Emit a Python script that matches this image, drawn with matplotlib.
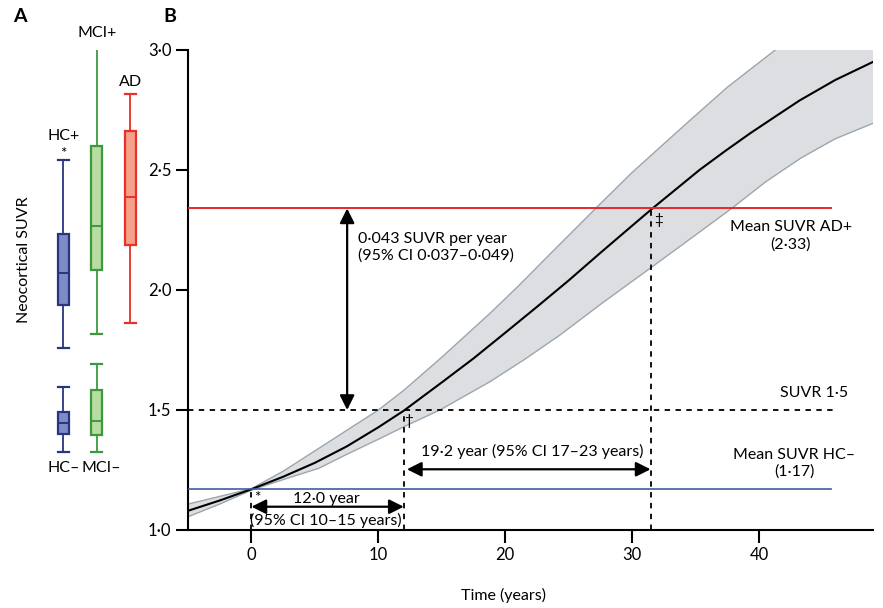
import matplotlib
matplotlib.use('Agg')
import matplotlib.pyplot as plt

plt.rcParams['font.family'] = ['Lato', 'DejaVu Sans']

# panel A: box statistics (neocortical SUVR)
groups = ['HC+', 'HC–', 'MCI+', 'MCI–', 'AD']
group_pos = [1, 1, 2, 2, 3]
whis_lo = [1.53, 1.03, 1.60, 1.03, 1.65]
q1 = [1.74, 1.115, 1.91, 1.11, 2.03]
med = [1.895, 1.17, 2.12, 1.178, 2.26]
q3 = [2.08, 1.222, 2.51, 1.328, 2.58]
whis_hi = [2.44, 1.344, 3.00, 1.452, 2.76]
edge_cols = ['#2a3580', '#2a3580', '#3c9a3c', '#3c9a3c', '#e8302a']
fill_cols = ['#7d8cc6', '#7d8cc6', '#b8dca2', '#b8dca2', '#f5a08b']

# panel B: modelled SUVR trajectory with 95% band
t_mean = [-5, -2.5, 0, 2.5, 5, 7.5, 10, 12, 15, 17.5, 20, 22.5, 25, 27.5, 30, 31.6,
          33.5, 35.3, 37.3, 39.3, 41.2, 43.2, 46, 49]
suvr_mean = [1.080, 1.123, 1.170, 1.222, 1.280, 1.348, 1.428, 1.497, 1.615, 1.715,
             1.822, 1.930, 2.040, 2.155, 2.268, 2.340, 2.422, 2.500, 2.578, 2.653,
             2.720, 2.790, 2.875, 2.951]
t_upper = [-5, -2.5, 0, 2.5, 5.3, 7.5, 10, 12, 15, 18.8, 21, 24, 27.5, 30, 34.3,
           37.5, 41.1, 44, 49]
suvr_upper = [1.108, 1.140, 1.172, 1.245, 1.340, 1.415, 1.500, 1.582, 1.720, 1.903,
              2.015, 2.175, 2.360, 2.490, 2.695, 2.845, 2.993, 3.110, 3.300]
t_lower = [-5, -2.5, 0, 2.5, 5.3, 7.5, 10, 12, 14.85, 18.8, 21.5, 24.3, 27.5, 31.66,
           34.5, 37.84, 40.5, 43.3, 46, 49]
suvr_lower = [1.055, 1.108, 1.166, 1.210, 1.257, 1.315, 1.378, 1.430, 1.500, 1.618,
              1.710, 1.812, 1.940, 2.100, 2.210, 2.340, 2.450, 2.550, 2.630, 2.695]

mean_ad = 2.34
mean_hc = 1.17
threshold = 1.5
t_hc, t_thr, t_ad = 0.0, 12.0, 31.5

fig = plt.figure(figsize=(8.83, 6.08), dpi=100)
W, H = 883.0, 608.0

# ---------------- panel A ----------------
axA = fig.add_axes([30 / W, 1 - 530 / H, 133.4 / W, 480 / H])
for i in range(len(groups)):
    st = dict(whislo=whis_lo[i], q1=q1[i], med=med[i], q3=q3[i],
              whishi=whis_hi[i], fliers=[])
    axA.bxp([st], positions=[group_pos[i]], widths=0.33, capwidths=0.33,
            patch_artist=True, showfliers=False,
            boxprops=dict(facecolor=fill_cols[i], edgecolor=edge_cols[i], lw=1.6),
            medianprops=dict(color=edge_cols[i], lw=1.4),
            whiskerprops=dict(color=edge_cols[i], lw=1.3),
            capprops=dict(color=edge_cols[i], lw=1.6))
axA.set_xlim(0, 4)
axA.set_ylim(0.651, 2.972)
axA.axis('off')
axA.text(1, 2.555, 'HC+', ha='center', va='center', fontsize=11.5)
axA.text(1, 2.47, '*', ha='center', va='center', fontsize=11)
axA.text(2, 3.054, 'MCI+', ha='center', va='center', fontsize=11.5)
axA.text(3, 2.817, 'AD', ha='center', va='center', fontsize=11.5)
axA.text(1, 0.951, 'HC–', ha='center', va='center', fontsize=11.5)
axA.text(2.15, 0.951, 'MCI–', ha='center', va='center', fontsize=11.5)
fig.text(24 / W, 1 - 260 / H, 'Neocortical SUVR', rotation=90, ha='center',
         va='center', fontsize=11.5)
fig.text(20 / W, 1 - 17 / H, 'A', ha='center', va='center', fontsize=14,
         fontweight='bold')
fig.text(170 / W, 1 - 17 / H, 'B', ha='center', va='center', fontsize=14,
         fontweight='bold')

# ---------------- panel B ----------------
ax = fig.add_axes([188 / W, 1 - 530 / H, (873.3 - 188) / W, 480 / H])
ax.fill_between(t_upper, suvr_upper, 0, color='#dcdee2', lw=0, zorder=1)
ax.fill_between(t_lower, suvr_lower, 0, color='white', lw=0, zorder=1.1)
ax.plot(t_upper, suvr_upper, color='#9ba7ad', lw=1.0, zorder=2)
ax.plot(t_lower, suvr_lower, color='#9ba7ad', lw=1.0, zorder=2)
ax.plot(t_mean, suvr_mean, color='black', lw=1.5, zorder=3)

ax.plot([-5, 45.7], [mean_ad, mean_ad], color='#e8272b', lw=1.4, zorder=4)
ax.plot([-5, 45.7], [mean_hc, mean_hc], color='#3f5ea6', lw=1.2, zorder=4)
ax.plot([-5, 45.8], [threshold, threshold], color='black', lw=1.3,
        ls=(0, (3, 3)), zorder=4)
ax.plot([t_hc, t_hc], [1.0, mean_hc], color='black', lw=1.3, ls=(0, (3, 3)), zorder=4)
ax.plot([t_thr, t_thr], [1.0, threshold], color='black', lw=1.3, ls=(0, (3, 3)), zorder=4)
ax.plot([t_ad, t_ad], [1.0, mean_ad], color='black', lw=1.3, ls=(0, (3, 3)), zorder=4)

arrow = dict(arrowstyle='<|-|>', color='black', lw=1.6, mutation_scale=22,
             shrinkA=0, shrinkB=0)
ax.annotate('', xy=(7.54, threshold), xytext=(7.54, mean_ad), arrowprops=arrow,
            zorder=5)
ax.annotate('', xy=(t_hc, 1.097), xytext=(t_thr, 1.097), arrowprops=arrow, zorder=5)
ax.annotate('', xy=(12.25, 1.253), xytext=(t_ad - 0.05, 1.253), arrowprops=arrow,
            zorder=5)

ax.text(8.39, 2.177, '0·043 SUVR per year\n(95% CI 0·037–0·049)', ha='left',
        va='center', fontsize=11.5, linespacing=1.25)
ax.text(5.9, 1.129, '12·0 year', ha='center', va='center', fontsize=11.5)
ax.text(5.85, 1.039, '(95% CI 10–15 years)', ha='center', va='center', fontsize=11.5)
ax.text(13.36, 1.326, '19·2 year (95% CI 17–23 years)', ha='left', va='center',
        fontsize=11.5)
ax.text(47.0, 1.571, 'SUVR 1·5', ha='right', va='center', fontsize=11.5)
ax.text(42.5, 2.225, 'Mean SUVR AD+\n(2·33)', ha='center', va='center',
        fontsize=11.5, linespacing=1.25)
ax.text(42.75, 1.278, 'Mean SUVR HC–\n(1·17)', ha='center', va='center',
        fontsize=11.5, linespacing=1.25)
ax.text(0.45, 1.135, '*', ha='center', va='center', fontsize=11)
ax.text(12.4, 1.455, '†', ha='center', va='center', fontsize=11)
ax.text(32.1, 2.292, '‡', ha='center', va='center', fontsize=11)

ax.set_xlim(-5, 49)
ax.set_ylim(1.0, 3.0)
ax.set_xticks([0, 10, 20, 30, 40])
ax.set_yticks([1.0, 1.5, 2.0, 2.5, 3.0])
ax.set_yticklabels(['1·0', '1·5', '2·0', '2·5', '3·0'])
ax.tick_params(axis='both', direction='out', length=9, width=1.5, labelsize=12,
               pad=3)
for s in ['top', 'right']:
    ax.spines[s].set_visible(False)
for s in ['left', 'bottom']:
    ax.spines[s].set_linewidth(1.5)
fig.text(503.5 / W, 1 - 595 / H, 'Time (years)', ha='center', va='center',
         fontsize=11.5)

fig.savefig('out.png', dpi=100)
